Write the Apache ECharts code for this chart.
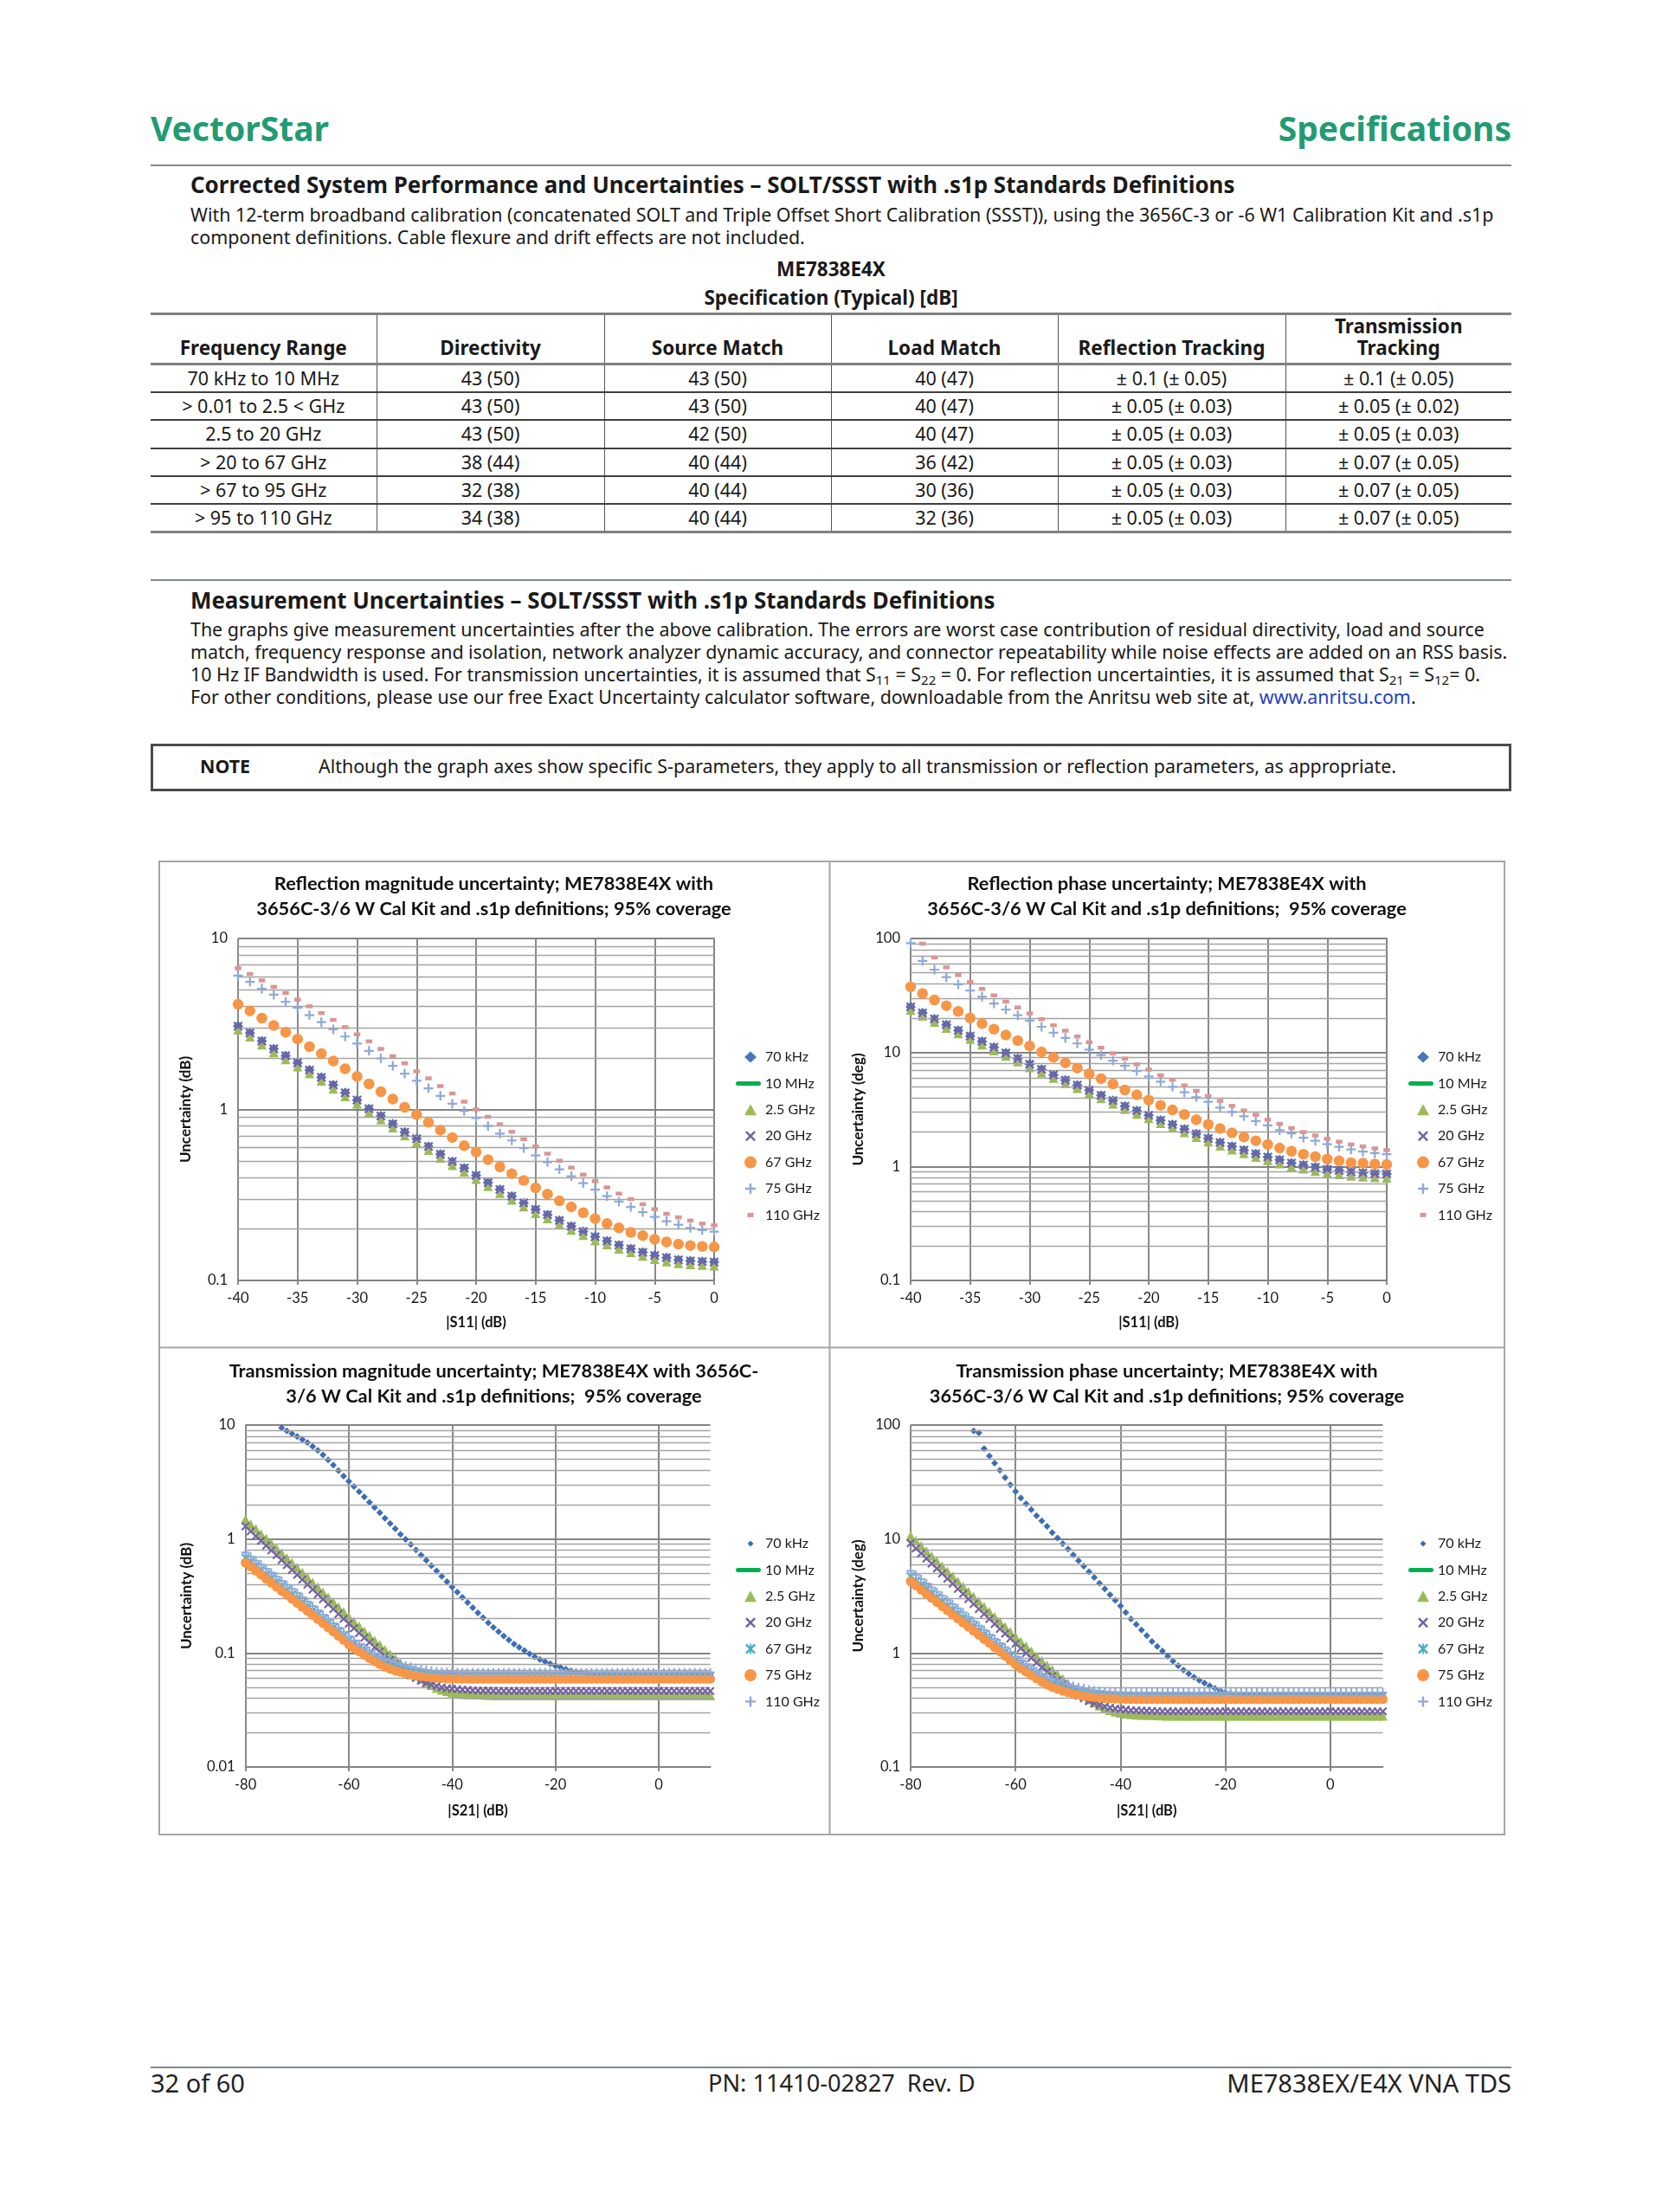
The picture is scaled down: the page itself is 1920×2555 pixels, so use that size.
<!DOCTYPE html>
<html><head><meta charset="utf-8">
<script src="https://cdn.jsdelivr.net/npm/echarts@6/dist/echarts.min.js"></script>
<style>
body{margin:0;background:#fff;width:1920px;height:2555px;position:relative;font-family:"Noto Sans",sans-serif;color:#1a1a1a;overflow:hidden;}
.a{position:absolute;white-space:nowrap;}
.rule{position:absolute;left:174px;width:1572px;height:2px;background:#7f8b8f;}
.h{font-size:25.9px;font-weight:700;line-height:30px;left:220px;}
.p{font-size:21.4px;line-height:26px;left:220px;}
sub{font-size:15px;vertical-align:-4px;line-height:0;}
table{position:absolute;left:174px;top:361px;width:1572px;border-collapse:collapse;table-layout:fixed;font-size:21.5px;border-top:3px solid #808080;}
th,td{text-align:center;padding:0;border-left:1px solid #555;white-space:nowrap;}
th:first-child,td:first-child{border-left:none;}
thead tr{height:58px;}
th{vertical-align:bottom;padding-bottom:5px;font-weight:700;font-size:22.5px;line-height:25px;border-bottom:3px solid #808080;}
tbody tr{height:32.4px;}
td{border-top:2px solid #404040;line-height:24px;}
tbody tr:first-child td{border-top:none;}
tbody tr:last-child td{border-bottom:3px solid #808080;}
#note{position:absolute;left:174px;top:859px;width:1572px;height:55px;box-sizing:border-box;border:3px solid #4a4a4a;}
#c{position:absolute;left:183px;top:994px;width:1556px;height:1126px;}
.f{font-size:29px;line-height:36px;color:#222;top:2388px;}
</style></head><body>
<div class="a" style="left:174px;top:124px;font-size:39px;font-weight:700;color:#229b73;line-height:48px;">VectorStar</div>
<div class="a" style="right:174px;top:124px;font-size:39px;font-weight:700;color:#229b73;line-height:48px;">Specifications</div>
<div class="rule" style="top:190px;"></div>
<div class="a h" style="top:198px;">Corrected System Performance and Uncertainties – SOLT/SSST with .s1p Standards Definitions</div>
<div class="a p" style="top:235px;">With 12-term broadband calibration (concatenated SOLT and Triple Offset Short Calibration (SSST)), using the 3656C-3 or -6 W1 Calibration Kit and .s1p</div>
<div class="a p" style="top:261px;">component definitions. Cable flexure and drift effects are not included.</div>
<div class="a" style="left:660px;width:600px;text-align:center;top:296px;font-size:22.5px;font-weight:700;line-height:30px;">ME7838E4X</div>
<div class="a" style="left:660px;width:600px;text-align:center;top:329px;font-size:22.5px;font-weight:700;line-height:30px;">Specification (Typical) [dB]</div>
<table>
<colgroup><col style="width:261px"><col style="width:263px"><col style="width:262px"><col style="width:262px"><col style="width:263px"><col style="width:261px"></colgroup>
<thead><tr><th>Frequency Range</th><th>Directivity</th><th>Source Match</th><th>Load Match</th><th>Reflection Tracking</th><th>Transmission<br>Tracking</th></tr></thead>
<tbody>
<tr><td>70 kHz to 10 MHz</td><td>43 (50)</td><td>43 (50)</td><td>40 (47)</td><td>± 0.1 (± 0.05)</td><td>± 0.1 (± 0.05)</td></tr>
<tr><td>&gt; 0.01 to 2.5 &lt; GHz</td><td>43 (50)</td><td>43 (50)</td><td>40 (47)</td><td>± 0.05 (± 0.03)</td><td>± 0.05 (± 0.02)</td></tr>
<tr><td>2.5 to 20 GHz</td><td>43 (50)</td><td>42 (50)</td><td>40 (47)</td><td>± 0.05 (± 0.03)</td><td>± 0.05 (± 0.03)</td></tr>
<tr><td>&gt; 20 to 67 GHz</td><td>38 (44)</td><td>40 (44)</td><td>36 (42)</td><td>± 0.05 (± 0.03)</td><td>± 0.07 (± 0.05)</td></tr>
<tr><td>&gt; 67 to 95 GHz</td><td>32 (38)</td><td>40 (44)</td><td>30 (36)</td><td>± 0.05 (± 0.03)</td><td>± 0.07 (± 0.05)</td></tr>
<tr><td>&gt; 95 to 110 GHz</td><td>34 (38)</td><td>40 (44)</td><td>32 (36)</td><td>± 0.05 (± 0.03)</td><td>± 0.07 (± 0.05)</td></tr>
</tbody></table>
<div class="rule" style="top:669px;"></div>
<div class="a h" style="top:678px;">Measurement Uncertainties – SOLT/SSST with .s1p Standards Definitions</div>
<div class="a p" style="top:714px;">The graphs give measurement uncertainties after the above calibration. The errors are worst case contribution of residual directivity, load and source</div>
<div class="a p" style="top:740px;letter-spacing:-0.05px;">match, frequency response and isolation, network analyzer dynamic accuracy, and connector repeatability while noise effects are added on an RSS basis.</div>
<div class="a p" style="top:766px;">10 Hz IF Bandwidth is used. For transmission uncertainties, it is assumed that S<sub>11</sub> = S<sub>22</sub> = 0. For reflection uncertainties, it is assumed that S<sub>21</sub> = S<sub>12</sub>= 0.</div>
<div class="a p" style="top:792px;">For other conditions, please use our free Exact Uncertainty calculator software, downloadable from the Anritsu web site at, <span style="color:#1f3fc4">www.anritsu.com</span>.</div>
<div id="note"></div>
<div class="a" style="left:231px;top:872px;font-size:21.4px;font-weight:700;line-height:26px;">NOTE</div>
<div class="a" style="left:368px;top:872px;font-size:21.4px;line-height:26px;">Although the graph axes show specific S-parameters, they apply to all transmission or reflection parameters, as appropriate.</div>
<div id="c"></div>
<div class="rule" style="top:2387px;"></div>
<div class="a f" style="left:174px;">32 of 60</div>
<div class="a f" style="left:818px;font-size:27.2px;">PN: 11410-02827&nbsp; Rev. D</div>
<div class="a f" style="right:174px;">ME7838EX/E4X VNA TDS</div>
<script>
// ---------- X values ----------
const refX = [-40,-39,-38,-37,-36,-35,-34,-33,-32,-31,-30,-29,-28,-27,-26,-25,-24,-23,-22,-21,-20,-19,-18,-17,-16,-15,-14,-13,-12,-11,-10,-9,-8,-7,-6,-5,-4,-3,-2,-1,0];
const transX = [-80,-79,-78,-77,-76,-75,-74,-73,-72,-71,-70,-69,-68,-67,-66,-65,-64,-63,-62,-61,-60,-59,-58,-57,-56,-55,-54,-53,-52,-51,-50,-49,-48,-47,-46,-45,-44,-43,-42,-41,-40,-39,-38,-37,-36,-35,-34,-33,-32,-31,-30,-29,-28,-27,-26,-25,-24,-23,-22,-21,-20,-19,-18,-17,-16,-15,-14,-13,-12,-11,-10,-9,-8,-7,-6,-5,-4,-3,-2,-1,0,1,2,3,4,5,6,7,8,9,10];

// ---------- Chart 1: reflection magnitude uncertainty (dB) ----------
const rmag70k = [3.07,2.80,2.51,2.26,2.06,1.87,1.70,1.54,1.39,1.25,1.135,1.01,0.916,0.822,0.737,0.674,0.607,0.547,0.496,0.454,0.411,0.373,0.340,0.311,0.284,0.260,0.242,0.224,0.207,0.193,0.180,0.170,0.161,0.153,0.146,0.140,0.136,0.132,0.130,0.129,0.128];
const rmag25G = [2.92,2.66,2.39,2.15,1.96,1.78,1.62,1.47,1.32,1.19,1.08,0.962,0.872,0.783,0.702,0.642,0.578,0.521,0.472,0.432,0.391,0.355,0.324,0.296,0.270,0.247,0.230,0.213,0.197,0.184,0.171,0.162,0.153,0.146,0.139,0.133,0.129,0.126,0.124,0.123,0.122];
const rmag20G = [3.07,2.80,2.51,2.26,2.06,1.87,1.70,1.54,1.39,1.25,1.135,1.01,0.916,0.822,0.737,0.674,0.607,0.547,0.496,0.454,0.411,0.373,0.340,0.311,0.284,0.260,0.242,0.224,0.207,0.193,0.180,0.170,0.161,0.153,0.146,0.140,0.136,0.132,0.130,0.129,0.128];
const rmag67G = [4.12,3.77,3.42,3.10,2.83,2.58,2.33,2.12,1.92,1.73,1.56,1.41,1.27,1.15,1.03,0.934,0.841,0.757,0.685,0.614,0.564,0.509,0.462,0.421,0.384,0.348,0.320,0.292,0.269,0.249,0.230,0.215,0.203,0.191,0.183,0.174,0.168,0.163,0.160,0.158,0.157];
const rmag75G = [6.06,5.58,5.08,4.69,4.26,3.94,3.56,3.24,2.94,2.67,2.43,2.20,1.99,1.80,1.62,1.47,1.33,1.20,1.08,0.980,0.892,0.800,0.723,0.659,0.595,0.538,0.492,0.447,0.407,0.371,0.340,0.311,0.289,0.269,0.251,0.235,0.222,0.212,0.203,0.197,0.193];
const rmag110G = [6.70,6.20,5.69,5.21,4.80,4.39,4.01,3.66,3.34,3.03,2.75,2.50,2.26,2.05,1.86,1.67,1.52,1.37,1.24,1.11,1.00,0.906,0.819,0.740,0.669,0.607,0.551,0.501,0.457,0.416,0.381,0.350,0.322,0.299,0.279,0.261,0.245,0.234,0.224,0.215,0.210];

// ---------- Chart 2: reflection phase uncertainty (deg) ----------
const rph70k = [25.1,22.2,19.7,17.5,15.6,13.9,12.5,11.1,9.89,8.85,7.87,7.09,6.35,5.71,5.17,4.66,4.20,3.78,3.38,3.08,2.81,2.54,2.33,2.12,1.93,1.76,1.62,1.50,1.39,1.29,1.21,1.14,1.07,1.03,0.982,0.944,0.922,0.895,0.879,0.865,0.859];
const rph25G = [23.6,20.9,18.5,16.4,14.7,13.1,11.7,10.4,9.30,8.32,7.40,6.66,5.97,5.37,4.86,4.38,3.95,3.55,3.18,2.89,2.64,2.39,2.19,1.99,1.81,1.65,1.52,1.40,1.30,1.21,1.13,1.06,0.995,0.955,0.910,0.875,0.853,0.828,0.813,0.800,0.794];
const rph20G = [25.1,22.2,19.7,17.5,15.6,13.9,12.5,11.1,9.89,8.85,7.87,7.09,6.35,5.71,5.17,4.66,4.20,3.78,3.38,3.08,2.81,2.54,2.33,2.12,1.93,1.76,1.62,1.50,1.39,1.29,1.21,1.14,1.07,1.03,0.982,0.944,0.922,0.895,0.879,0.865,0.859];
const rph67G = [37.6,32.9,28.9,25.7,22.9,20.1,17.9,16.0,14.2,12.7,11.4,10.1,9.06,8.11,7.30,6.50,5.89,5.30,4.69,4.25,3.82,3.44,3.13,2.86,2.57,2.34,2.15,1.97,1.81,1.68,1.56,1.45,1.36,1.28,1.22,1.16,1.12,1.08,1.07,1.05,1.04];
const rph75G = [91.1,63.5,53.3,45.8,39.6,35.0,30.8,26.9,23.8,21.2,19.0,16.8,14.9,13.4,12.0,10.6,9.49,8.49,7.65,6.88,6.17,5.55,5.00,4.47,4.05,3.69,3.28,3.01,2.76,2.50,2.29,2.08,1.95,1.79,1.68,1.57,1.49,1.41,1.35,1.31,1.28];
const rph110G = [null,90.0,68.1,55.8,47.7,41.5,36.1,31.7,27.9,24.8,22.0,19.6,17.3,15.5,13.8,12.3,11.0,9.83,8.85,7.87,7.09,6.31,5.75,5.14,4.60,4.15,3.76,3.40,3.10,2.84,2.57,2.36,2.17,2.00,1.87,1.75,1.65,1.56,1.50,1.44,1.39];

// ---------- Chart 3: transmission magnitude uncertainty (dB) ----------
const tmag70k = [null,null,null,null,null,null,null,9.43,8.90,8.40,
7.92,7.47,7.01,6.50,5.99,5.46,4.94,4.45,3.98,3.56,
3.21,2.89,2.60,2.34,2.10,1.89,1.70,1.52,1.37,1.23,
1.10,0.993,0.895,0.801,0.721,0.650,0.582,0.524,0.471,0.422,
0.380,0.342,0.308,0.277,0.250,0.225,0.204,0.184,0.168,0.154,
0.141,0.130,0.120,0.112,0.105,0.0982,0.0927,0.0879,0.0839,0.0805,
0.0774,0.0747,0.0721,0.0701,0.0685,0.0673,0.0661,0.0653,0.0645,0.0642,
0.0642,0.0642,0.0642,0.0642,0.0642,0.0642,0.0642,0.0642,0.0642,0.0642,
0.0642,0.0642,0.0642,0.0642,0.0642,0.0642,0.0642,0.0642,0.0642,0.0642,0.0642];
const tmag25G = [1.49,1.35,1.23,1.11,1.01,0.916,0.831,0.753,0.683,0.619,
0.562,0.509,0.461,0.417,0.378,0.342,0.310,0.281,0.254,0.230,
0.208,0.189,0.172,0.156,0.142,0.129,0.118,0.107,0.098,0.0897,
0.0820,0.0751,0.0689,0.0638,0.0592,0.0552,0.0521,0.0494,0.0474,0.0461,
0.0450,0.0442,0.0437,0.0433,0.0431,0.0430,0.0429,0.0427,0.0426,0.0424,
0.0424,0.0424,0.0424,0.0424,0.0424,0.0424,0.0424,0.0424,0.0424,0.0424,
0.0424,0.0424,0.0424,0.0424,0.0424,0.0424,0.0424,0.0424,0.0424,0.0424,
0.0424,0.0424,0.0424,0.0424,0.0424,0.0424,0.0424,0.0424,0.0424,0.0424,
0.0424,0.0424,0.0424,0.0424,0.0424,0.0424,0.0424,0.0424,0.0424,0.0424,0.0424];
const tmag20G = [1.29,1.17,1.06,0.964,0.876,0.796,0.722,0.653,0.592,0.536,
0.486,0.440,0.398,0.361,0.327,0.296,0.268,0.243,0.220,0.200,
0.181,0.165,0.150,0.136,0.124,0.112,0.103,0.0943,0.0869,0.0801,
0.0739,0.0685,0.0638,0.0602,0.0571,0.0545,0.0527,0.0512,0.0500,0.0491,
0.0485,0.0480,0.0476,0.0474,0.0471,0.0469,0.0468,0.0467,0.0465,0.0464,
0.0464,0.0464,0.0464,0.0464,0.0464,0.0464,0.0464,0.0464,0.0464,0.0464,
0.0464,0.0464,0.0464,0.0464,0.0464,0.0464,0.0464,0.0464,0.0464,0.0464,
0.0464,0.0464,0.0464,0.0464,0.0464,0.0464,0.0464,0.0464,0.0464,0.0464,
0.0464,0.0464,0.0464,0.0464,0.0464,0.0464,0.0464,0.0464,0.0464,0.0464,0.0464];
const tmag67G = [0.687,0.633,0.583,0.537,0.495,0.457,0.421,0.388,0.357,0.329,
0.304,0.279,0.256,0.236,0.217,0.199,0.183,0.167,0.154,0.141,
0.129,0.120,0.111,0.104,0.0971,0.0914,0.0865,0.0823,0.0790,0.0763,
0.0739,0.0717,0.0698,0.0685,0.0671,0.0661,0.0653,0.0647,0.0642,0.0638,
0.0636,0.0635,0.0635,0.0635,0.0635,0.0635,0.0635,0.0635,0.0635,0.0635,
0.0635,0.0635,0.0635,0.0635,0.0635,0.0635,0.0635,0.0635,0.0635,0.0635,
0.0635,0.0635,0.0635,0.0635,0.0635,0.0635,0.0635,0.0635,0.0635,0.0635,
0.0635,0.0635,0.0635,0.0635,0.0635,0.0635,0.0635,0.0635,0.0635,0.0635,
0.0635,0.0635,0.0635,0.0635,0.0635,0.0635,0.0635,0.0635,0.0635,0.0635,0.0635];
const tmag75G = [0.620,0.572,0.527,0.486,0.447,0.412,0.380,0.350,0.323,0.298,
0.274,0.253,0.233,0.215,0.198,0.182,0.167,0.154,0.141,0.130,
0.119,0.110,0.103,0.0960,0.0900,0.0844,0.0797,0.0756,0.0726,0.0701,
0.0681,0.0661,0.0646,0.0635,0.0624,0.0617,0.0610,0.0604,0.0601,0.0597,
0.0595,0.0594,0.0592,0.0592,0.0592,0.0592,0.0592,0.0592,0.0592,0.0592,
0.0592,0.0592,0.0592,0.0592,0.0592,0.0592,0.0592,0.0592,0.0592,0.0592,
0.0592,0.0592,0.0592,0.0592,0.0592,0.0592,0.0592,0.0592,0.0592,0.0592,
0.0592,0.0592,0.0592,0.0592,0.0592,0.0592,0.0592,0.0592,0.0592,0.0592,
0.0592,0.0592,0.0592,0.0592,0.0592,0.0592,0.0592,0.0592,0.0592,0.0592,0.0592];
const tmag110G = [0.760,0.701,0.646,0.595,0.548,0.506,0.466,0.429,0.396,0.365,
0.336,0.308,0.282,0.259,0.237,0.217,0.199,0.182,0.167,0.153,
0.140,0.129,0.120,0.112,0.105,0.0988,0.0938,0.0895,0.0859,0.0830,
0.0801,0.0778,0.0756,0.0739,0.0722,0.0709,0.0701,0.0692,0.0686,0.0682,
0.0681,0.0680,0.0676,0.0676,0.0676,0.0676,0.0676,0.0676,0.0676,0.0676,
0.0676,0.0676,0.0676,0.0676,0.0676,0.0676,0.0676,0.0676,0.0676,0.0676,
0.0676,0.0676,0.0676,0.0676,0.0676,0.0676,0.0676,0.0676,0.0676,0.0676,
0.0676,0.0676,0.0676,0.0676,0.0676,0.0676,0.0676,0.0676,0.0676,0.0676,
0.0676,0.0676,0.0676,0.0676,0.0676,0.0676,0.0676,0.0676,0.0676,0.0676,0.0676];

// ---------- Chart 4: transmission phase uncertainty (deg) ----------
const tph70k = [null,null,null,null,null,null,null,null,null,null,
null,null,89.0,85.5,62.0,53.5,46.4,40.1,34.6,29.9,
26.1,22.9,20.4,18.1,16.0,14.4,12.9,11.4,10.2,9.12,
8.15,7.26,6.46,5.78,5.17,4.61,4.10,3.65,3.24,2.90,
2.59,2.27,1.99,1.78,1.59,1.42,1.26,1.14,1.04,0.938,
0.847,0.774,0.710,0.659,0.615,0.578,0.546,0.515,0.488,0.467,
0.450,0.443,0.437,0.432,0.428,0.425,0.423,0.422,0.422,0.422,
0.422,0.422,0.422,0.422,0.422,0.422,0.422,0.422,0.422,0.422,
0.422,0.422,0.422,0.422,0.422,0.422,0.422,0.422,0.422,0.422,0.422];
const tph25G = [10.7,9.67,8.72,7.86,7.09,6.40,5.77,5.21,4.70,4.25,
3.84,3.46,3.13,2.83,2.55,2.31,2.09,1.89,1.70,1.54,
1.39,1.26,1.15,1.04,0.942,0.855,0.781,0.714,0.651,0.595,
0.544,0.498,0.457,0.423,0.392,0.366,0.345,0.327,0.314,0.305,
0.298,0.293,0.289,0.287,0.285,0.285,0.284,0.283,0.282,0.281,
0.281,0.281,0.281,0.281,0.281,0.281,0.281,0.281,0.281,0.281,
0.281,0.281,0.281,0.281,0.281,0.281,0.281,0.281,0.281,0.281,
0.281,0.281,0.281,0.281,0.281,0.281,0.281,0.281,0.281,0.281,
0.281,0.281,0.281,0.281,0.281,0.281,0.281,0.281,0.281,0.281,0.281];
const tph20G = [9.17,8.28,7.48,6.75,6.10,5.52,4.98,4.49,4.05,3.66,
3.30,2.98,2.69,2.43,2.20,1.99,1.80,1.63,1.48,1.34,
1.21,1.10,0.997,0.906,0.823,0.747,0.684,0.626,0.577,0.531,
0.490,0.454,0.423,0.399,0.378,0.361,0.349,0.339,0.331,0.325,
0.321,0.318,0.315,0.314,0.312,0.311,0.310,0.309,0.308,0.307,
0.307,0.307,0.307,0.307,0.307,0.307,0.307,0.307,0.307,0.307,
0.307,0.307,0.307,0.307,0.307,0.307,0.307,0.307,0.307,0.307,
0.307,0.307,0.307,0.307,0.307,0.307,0.307,0.307,0.307,0.307,
0.307,0.307,0.307,0.307,0.307,0.307,0.307,0.307,0.307,0.307,0.307];
const tph67G = [4.73,4.34,3.99,3.67,3.37,3.10,2.85,2.62,2.41,2.22,
2.04,1.88,1.72,1.58,1.45,1.33,1.22,1.12,1.02,0.938,
0.860,0.795,0.738,0.688,0.645,0.607,0.574,0.547,0.525,0.507,
0.491,0.476,0.463,0.455,0.446,0.439,0.434,0.430,0.426,0.424,
0.422,0.421,0.421,0.421,0.421,0.421,0.421,0.421,0.421,0.421,
0.421,0.421,0.421,0.421,0.421,0.421,0.421,0.421,0.421,0.421,
0.421,0.421,0.421,0.421,0.421,0.421,0.421,0.421,0.421,0.421,
0.421,0.421,0.421,0.421,0.421,0.421,0.421,0.421,0.421,0.421,
0.421,0.421,0.421,0.421,0.421,0.421,0.421,0.421,0.421,0.421,0.421];
const tph75G = [4.25,3.91,3.59,3.30,3.04,2.79,2.57,2.36,2.17,2.00,
1.84,1.70,1.56,1.44,1.32,1.22,1.12,1.03,0.940,0.863,
0.792,0.734,0.684,0.637,0.597,0.560,0.529,0.502,0.482,0.465,
0.452,0.439,0.429,0.421,0.414,0.409,0.405,0.401,0.399,0.396,
0.395,0.394,0.393,0.393,0.393,0.393,0.393,0.393,0.393,0.393,
0.393,0.393,0.393,0.393,0.393,0.393,0.393,0.393,0.393,0.393,
0.393,0.393,0.393,0.393,0.393,0.393,0.393,0.393,0.393,0.393,
0.393,0.393,0.393,0.393,0.393,0.393,0.393,0.393,0.393,0.393,
0.393,0.393,0.393,0.393,0.393,0.393,0.393,0.393,0.393,0.393,0.393];
const tph110G = [5.26,4.83,4.44,4.08,3.75,3.44,3.17,2.91,2.68,2.46,
2.27,2.07,1.90,1.74,1.59,1.45,1.33,1.22,1.12,1.02,
0.934,0.860,0.797,0.742,0.696,0.656,0.623,0.594,0.570,0.551,
0.532,0.516,0.502,0.490,0.479,0.471,0.465,0.459,0.455,0.453,
0.452,0.451,0.449,0.449,0.449,0.449,0.449,0.449,0.449,0.449,
0.449,0.449,0.449,0.449,0.449,0.449,0.449,0.449,0.449,0.449,
0.449,0.449,0.449,0.449,0.449,0.449,0.449,0.449,0.449,0.449,
0.449,0.449,0.449,0.449,0.449,0.449,0.449,0.449,0.449,0.449,
0.449,0.449,0.449,0.449,0.449,0.449,0.449,0.449,0.449,0.449,0.449];

// ---------- legend names & minor grid values ----------
const legendNames = ['70 kHz','10 MHz','2.5 GHz','20 GHz','67 GHz','75 GHz','110 GHz'];
const minorDec1 = [0.2,0.3,0.4,0.5,0.6,0.7,0.8,0.9,2,3,4,5,6,7,8,9];
const minorDec2 = [0.2,0.3,0.4,0.5,0.6,0.7,0.8,0.9,2,3,4,5,6,7,8,9,20,30,40,50,60,70,80,90];
const minorDec3 = [0.02,0.03,0.04,0.05,0.06,0.07,0.08,0.09,0.2,0.3,0.4,0.5,0.6,0.7,0.8,0.9,2,3,4,5,6,7,8,9];

const FONT = 'Lato, "Noto Sans", sans-serif';
const C = {blue:'#4677BA', blue2:'#3D6EB4', gline:'#00B050', olive:'#9BBB59', purple:'#7561A3', orange:'#F79646', lblue:'#8EA9D8', pink:'#D99694', teal:'#4BACC6'};
const SYM_X = 'path://M0,1.5L1.5,0L5,3.5L8.5,0L10,1.5L6.5,5L10,8.5L8.5,10L5,6.5L1.5,10L0,8.5L3.5,5Z';
const SYM_PLUS = 'path://M4,0H6V4H10V6H6V10H4V6H0V4H4Z';
const SYM_AST = SYM_X + 'M4.25,0H5.75V10H4.25Z';
const AN = 'M0,0M38,14';
const IC = {
  diamond: 'path://'+AN+'M26,0.5L33,7L26,13.5L19,7Z',
  diamondS: 'path://'+AN+'M26,3.5L29.5,7L26,10.5L22.5,7Z',
  line: 'path://'+AN+'M11.5,4.5H35.5A2.5,2.5,0,0,1,35.5,9.5H11.5A2.5,2.5,0,0,1,11.5,4.5Z',
  tri: 'path://'+AN+'M26,0.5L33,13.5L19,13.5Z',
  x: 'path://'+AN+'M20,2.8L21.8,1L26,5.2L30.2,1L32,2.8L27.8,7L32,11.2L30.2,13L26,8.8L21.8,13L20,11.2L24.2,7Z',
  ast: 'path://'+AN+'M20,2.8L21.8,1L26,5.2L30.2,1L32,2.8L27.8,7L32,11.2L30.2,13L26,8.8L21.8,13L20,11.2L24.2,7ZM25.1,1H26.9V13H25.1Z',
  circle: 'path://'+AN+'M19,7A7,7,0,1,1,33,7A7,7,0,1,1,19,7Z',
  plus: 'path://'+AN+'M24.8,1H27.2V5.8H32V8.2H27.2V13H24.8V8.2H20V5.8H24.8Z',
  dash: 'path://'+AN+'M22.5,4.5H29.5V9.5H22.5Z'
};

const option = {animation:false, title:[], legend:[], grid:[], xAxis:[], yAxis:[], series:[],
  graphic:[
    {type:'rect', shape:{x:1,y:1,width:1554,height:1124}, style:{fill:'none', stroke:'#a6a6a6', lineWidth:2}, silent:true},
    {type:'line', shape:{x1:775.5,y1:0,x2:775.5,y2:1126}, style:{stroke:'#a6a6a6', lineWidth:2}, silent:true},
    {type:'line', shape:{x1:0,y1:562.5,x2:1556,y2:562.5}, style:{stroke:'#a6a6a6', lineWidth:2}, silent:true}
  ]};

function addChart(k, cfg){
  const zw = '\u200b'.repeat(k);
  const gridLine = {color:'#848484', width:1.9};
  option.title.push({text:cfg.title, left:cfg.titleX, top:cfg.titleY, textAlign:'center', padding:0,
    textStyle:{fontFamily:FONT, fontSize:21.8, fontWeight:'bold', color:'#111', lineHeight:29}});
  option.grid.push(Object.assign({outerBoundsMode:'none', containLabel:false}, cfg.grid));
  option.xAxis.push({gridIndex:k, type:'value', min:cfg.xMin, max:cfg.xMax, interval:cfg.xInt,
    axisLine:{show:true, onZero:false, lineStyle:gridLine}, axisTick:{show:true, length:5, lineStyle:gridLine},
    splitLine:{show:true, showMaxLine:cfg.showMaxLine, lineStyle:gridLine},
    axisLabel:{fontFamily:FONT, fontSize:16.5, color:'#1a1a1a', margin:12, showMinLabel:true, showMaxLabel:cfg.showMaxLine},
    name:cfg.xName, nameLocation:'middle', nameGap:cfg.xGap, nameMoveOverlap:false,
    nameTextStyle:{fontFamily:FONT, fontSize:16.5, fontWeight:'bold', color:'#111'}});
  option.yAxis.push({gridIndex:k, type:'log', logBase:10, min:cfg.yMin, max:cfg.yMax,
    axisLine:{show:true, lineStyle:gridLine}, axisTick:{show:true, length:5, lineStyle:gridLine},
    splitLine:{show:true, lineStyle:gridLine},
    axisLabel:{fontFamily:FONT, fontSize:16.5, color:'#1a1a1a', margin:12, formatter:v=>String(+(+v).toPrecision(3))},
    name:cfg.yName, nameLocation:'middle', nameGap:cfg.yGap, nameMoveOverlap:false,
    nameTextStyle:{fontFamily:FONT, fontSize:17, fontWeight:'bold', color:'#111'}});
  // minor horizontal grid lines drawn through the axis scale
  option.series.push({type:'line', name:'minor'+k, xAxisIndex:k, yAxisIndex:k, data:[], z:1, silent:true,
    markLine:{silent:true, symbol:['none','none'], label:{show:false}, animation:false,
      lineStyle:{color:'#a4a4a4', width:1.4, type:'solid'}, emphasis:{disabled:true},
      data:cfg.minor.map(v=>({yAxis:v}))}});
  cfg.defs.forEach((d,i)=>{
    const name = legendNames[i]+zw;
    if(d.line){
      option.series.push({type:'line', name, xAxisIndex:k, yAxisIndex:k, data:d.data.map((v,j)=>[cfg.xs[j],v]),
        symbol:'none', color:d.color, lineStyle:{color:d.color, width:4}, z:2});
    } else {
      option.series.push({type:'scatter', name, xAxisIndex:k, yAxisIndex:k,
        data:d.data.map((v,j)=>[cfg.xs[j],v]).filter(p=>p[1]!==null),
        symbol:d.symbol, symbolSize:d.size, color:d.color, itemStyle:{color:d.color, opacity:1},
        emphasis:{disabled:true}, z:2+i, clip:true});
    }
  });
  option.legend.push({orient:'vertical', left:cfg.legendLeft, top:cfg.legendTop, padding:0,
    itemWidth:38, itemHeight:14, itemGap:14.4, selectedMode:false,
    formatter:n=>n.replace(/\u200b/g,''),
    textStyle:{fontFamily:FONT, fontSize:16, color:'#1a1a1a', lineHeight:14},
    data:cfg.defs.map((d,i)=>({name:legendNames[i]+zw, icon:IC[d.icon]}))});
}

const reflDefs = (a,b,c,d,e,f)=>[
  {symbol:'diamond', size:12, color:C.blue, icon:'diamond', data:a},
  {line:true, color:C.gline, icon:'line', data:[]},
  {symbol:'triangle', size:11, color:C.olive, icon:'tri', data:b},
  {symbol:SYM_X, size:11, color:C.purple, icon:'x', data:c},
  {symbol:'circle', size:12.5, color:C.orange, icon:'circle', data:d},
  {symbol:SYM_PLUS, size:11, color:C.lblue, icon:'plus', data:e},
  {symbol:'rect', size:[7.5,4.5], color:C.pink, icon:'dash', data:f}];
const transDefs = (a,b,c,d,e,f)=>[
  {symbol:'diamond', size:8, color:C.blue2, icon:'diamondS', data:a},
  {line:true, color:C.gline, icon:'line', data:[]},
  {symbol:'triangle', size:11, color:C.olive, icon:'tri', data:b},
  {symbol:SYM_X, size:10, color:C.purple, icon:'x', data:c},
  {symbol:SYM_AST, size:10, color:C.teal, icon:'ast', data:d},
  {symbol:'circle', size:11, color:C.orange, icon:'circle', data:e},
  {symbol:SYM_PLUS, size:10, color:C.lblue, icon:'plus', data:f}];

addChart(0, {title:'Reflection magnitude uncertainty; ME7838E4X with\n3656C-3/6 W Cal Kit and .s1p definitions; 95% coverage',
  titleX:387.5, titleY:12, grid:{left:92, top:90, width:550, height:395},
  xMin:-40, xMax:0, xInt:5, yMin:0.1, yMax:10, xs:refX, showMaxLine:true,
  xName:'|S11| (dB)', yName:'Uncertainty (dB)', xGap:40, yGap:52, minor:minorDec1,
  legendLeft:658, legendTop:219, defs:reflDefs(rmag70k,rmag25G,rmag20G,rmag67G,rmag75G,rmag110G)});
addChart(1, {title:'Reflection phase uncertainty; ME7838E4X with\n3656C-3/6 W Cal Kit and .s1p definitions;  95% coverage',
  titleX:1165, titleY:12, grid:{left:869, top:90, width:550, height:395},
  xMin:-40, xMax:0, xInt:5, yMin:0.1, yMax:100, xs:refX, showMaxLine:true,
  xName:'|S11| (dB)', yName:'Uncertainty (deg)', xGap:40, yGap:52, minor:minorDec2,
  legendLeft:1435, legendTop:219, defs:reflDefs(rph70k,rph25G,rph20G,rph67G,rph75G,rph110G)});
addChart(2, {title:'Transmission magnitude uncertainty; ME7838E4X with 3656C-\n3/6 W Cal Kit and .s1p definitions;  95% coverage',
  titleX:387.5, titleY:575, grid:{left:100.6, top:652, width:537, height:395},
  xMin:-80, xMax:10, xInt:20, yMin:0.01, yMax:10, xs:transX, showMaxLine:false,
  xName:'|S21| (dB)', yName:'Uncertainty (dB)', xGap:42, yGap:60, minor:minorDec3,
  legendLeft:658, legendTop:781, defs:transDefs(tmag70k,tmag25G,tmag20G,tmag67G,tmag75G,tmag110G)});
addChart(3, {title:'Transmission phase uncertainty; ME7838E4X with\n3656C-3/6 W Cal Kit and .s1p definitions; 95% coverage',
  titleX:1165, titleY:575, grid:{left:869, top:652, width:545.5, height:395},
  xMin:-80, xMax:10, xInt:20, yMin:0.1, yMax:100, xs:transX, showMaxLine:false,
  xName:'|S21| (dB)', yName:'Uncertainty (deg)', xGap:42, yGap:52, minor:minorDec2,
  legendLeft:1435, legendTop:781, defs:transDefs(tph70k,tph25G,tph20G,tph67G,tph75G,tph110G)});

const chart = echarts.init(document.getElementById('c'), null, {renderer:'canvas'});
chart.setOption(option);
</script>
</body></html>
